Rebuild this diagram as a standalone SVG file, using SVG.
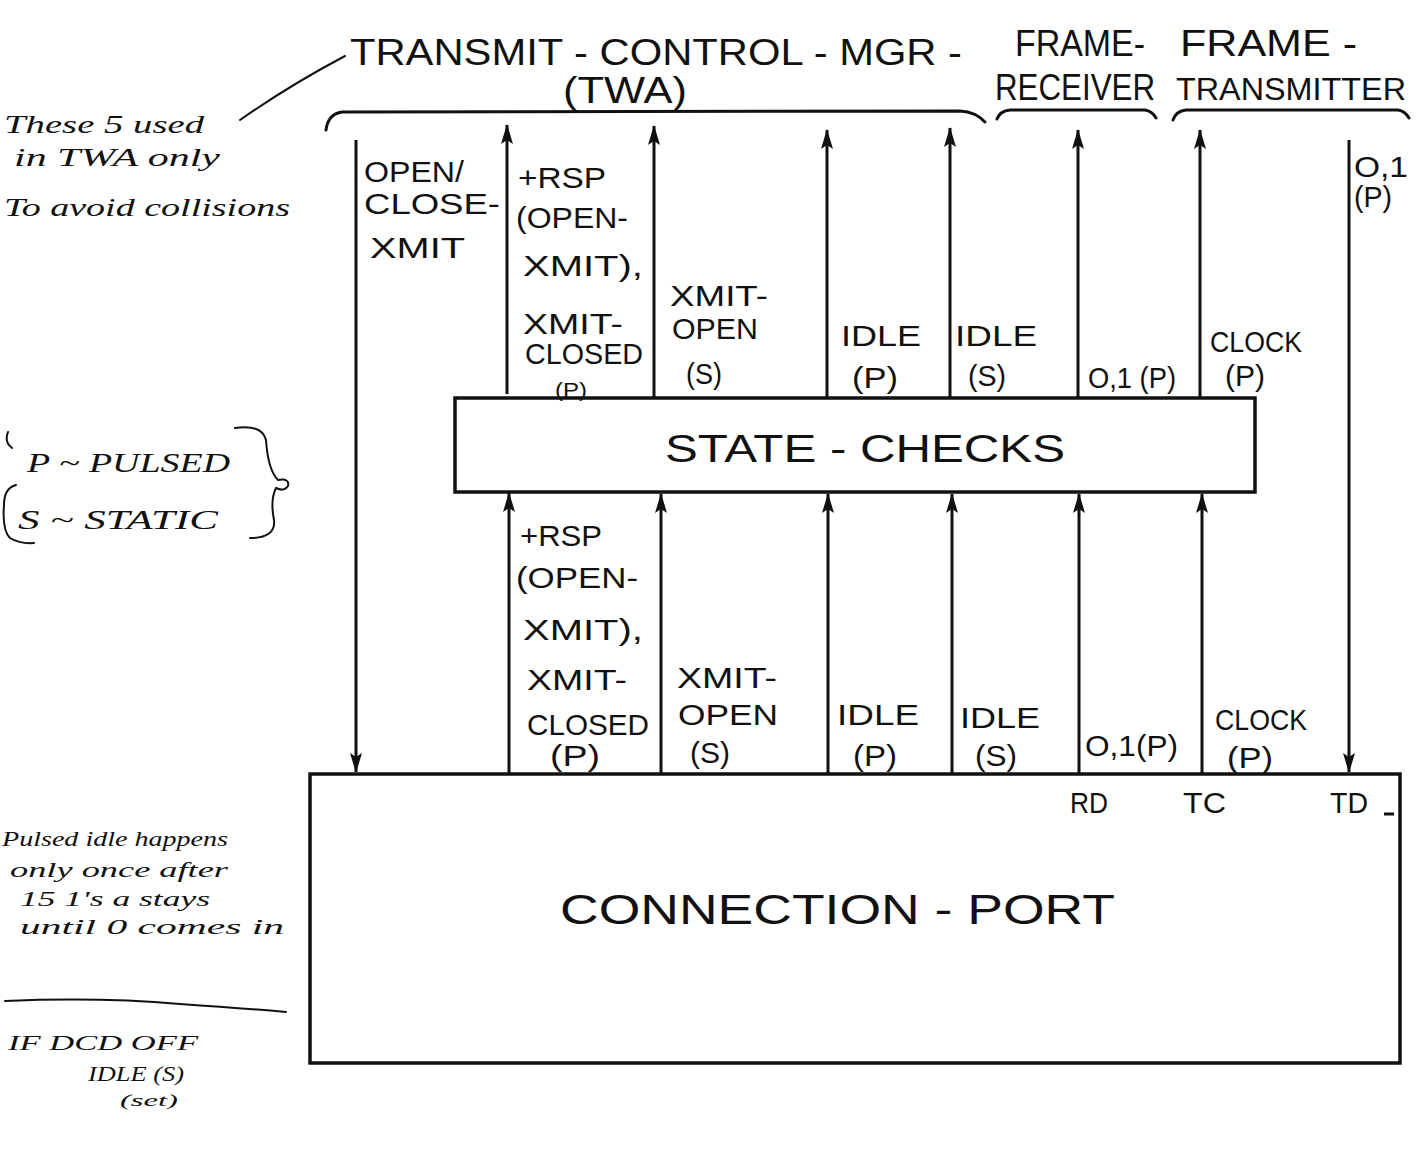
<svg xmlns="http://www.w3.org/2000/svg" width="1418" height="1161" viewBox="0 0 1418 1161">
<defs>
<style>
.t{font-family:"Liberation Sans",Arial,sans-serif;fill:#111;font-size:30px}
.h{font-family:"Liberation Sans",Arial,sans-serif;fill:#111;font-size:36px}
.n{font-family:"Liberation Serif","Times New Roman",serif;font-style:italic;fill:#111;font-size:25px}
.box{fill:none;stroke:#111;stroke-width:3.5}
.ln{fill:none;stroke:#111;stroke-width:3}
.br{fill:none;stroke:#111;stroke-width:3;stroke-linecap:round}
.nb{fill:none;stroke:#111;stroke-width:2;stroke-linecap:round}
</style>
<marker id="ah" viewBox="0 0 20 14" refX="19" refY="7" markerWidth="20" markerHeight="14" markerUnits="userSpaceOnUse" orient="auto">
<path d="M0,1 L20,7 L0,13 L4,7 z" fill="#111"/>
</marker>
</defs>

<g id="headers">
<text class="h" x="350" y="65" textLength="612" lengthAdjust="spacingAndGlyphs">TRANSMIT - CONTROL - MGR -</text>
<text class="h" x="563" y="103" textLength="124" lengthAdjust="spacingAndGlyphs">(TWA)</text>
<path class="br" d="M326 130 Q328 114 342 112 L960 111 Q976 112 985 122"/>
<text class="h" x="1015" y="56" textLength="130" lengthAdjust="spacingAndGlyphs">FRAME-</text>
<text class="h" x="995" y="100" textLength="160" lengthAdjust="spacingAndGlyphs">RECEIVER</text>
<path class="br" d="M997 119 Q1000 111 1010 110 L1145 110 Q1152 111 1156 118"/>
<text class="h" x="1180" y="56" textLength="177" lengthAdjust="spacingAndGlyphs">FRAME -</text>
<text class="h" x="1176" y="100" style="font-size:31px" textLength="230" lengthAdjust="spacingAndGlyphs">TRANSMITTER</text>
<path class="br" d="M1173 120 Q1176 111 1186 110 L1398 110 Q1405 111 1409 118"/>
</g>

<g id="notes">
<path class="nb" d="M240 120 Q290 85 345 56"/>
<text class="n" x="4" y="133" textLength="200" lengthAdjust="spacingAndGlyphs">These 5 used</text>
<text class="n" x="14" y="166" textLength="206" lengthAdjust="spacingAndGlyphs">in TWA only</text>
<text class="n" x="4" y="216" textLength="286" lengthAdjust="spacingAndGlyphs">To avoid collisions</text>
<text class="n" x="27" y="472" style="font-size:28px" textLength="203" lengthAdjust="spacingAndGlyphs">P ~ PULSED</text>
<text class="n" x="18" y="529" style="font-size:28px" textLength="200" lengthAdjust="spacingAndGlyphs">S ~ STATIC</text>
<path class="nb" d="M8 432 Q4 442 12 448 M16 485 Q4 488 4 505 Q2 530 10 538 Q20 544 34 543"/>
<path class="nb" d="M235 428 Q262 424 266 440 Q268 470 278 480 Q290 478 288 486 Q284 492 276 488 Q270 500 274 520 Q276 538 250 538"/>
<text class="n" x="2" y="846" style="font-size:22px" textLength="226" lengthAdjust="spacingAndGlyphs">Pulsed idle happens</text>
<text class="n" x="10" y="877" style="font-size:22px" textLength="218" lengthAdjust="spacingAndGlyphs">only once after</text>
<text class="n" x="20" y="906" style="font-size:22px" textLength="190" lengthAdjust="spacingAndGlyphs">15 1's a stays</text>
<text class="n" x="20" y="934" style="font-size:22px" textLength="264" lengthAdjust="spacingAndGlyphs">until 0 comes in</text>
<path class="nb" d="M5 1001 Q100 997 180 1004 Q240 1008 286 1012"/>
<text class="n" x="8" y="1050" style="font-size:22px" textLength="190" lengthAdjust="spacingAndGlyphs">IF   DCD OFF</text>
<text class="n" x="88" y="1081" style="font-size:21px" textLength="96" lengthAdjust="spacingAndGlyphs">IDLE (S)</text>
<text class="n" x="120" y="1106" style="font-size:17px" textLength="58" lengthAdjust="spacingAndGlyphs">(set)</text>
</g>

<g id="state-checks">
<rect class="box" x="455" y="398" width="800" height="94"/>
<text class="h" x="665" y="462" style="font-size:38px" textLength="400" lengthAdjust="spacingAndGlyphs">STATE - CHECKS</text>
</g>

<g id="connection-port">
<rect class="box" x="310" y="774" width="1090" height="289"/>
<text class="h" x="560" y="924" style="font-size:42px" textLength="555" lengthAdjust="spacingAndGlyphs">CONNECTION - PORT</text>
<text class="t" x="1070" y="813" textLength="38" lengthAdjust="spacingAndGlyphs">RD</text>
<text class="t" x="1183" y="813" textLength="43" lengthAdjust="spacingAndGlyphs">TC</text>
<text class="t" x="1330" y="813" textLength="38" lengthAdjust="spacingAndGlyphs">TD</text>
<path class="ln" d="M1384 814 L1394 814"/>
</g>

<g id="connectors">
<path class="ln" d="M356 140 L356 772" marker-end="url(#ah)"/>
<path class="ln" d="M507 394 L507 125" marker-end="url(#ah)"/>
<path class="ln" d="M654 398 L654 126" marker-end="url(#ah)"/>
<path class="ln" d="M827 398 L827 130" marker-end="url(#ah)"/>
<path class="ln" d="M950 398 L950 128" marker-end="url(#ah)"/>
<path class="ln" d="M1078 398 L1078 130" marker-end="url(#ah)"/>
<path class="ln" d="M1200 398 L1200 130" marker-end="url(#ah)"/>
<path class="ln" d="M1349 140 L1349 772" marker-end="url(#ah)"/>
<path class="ln" d="M509 774 L509 493" marker-end="url(#ah)"/>
<path class="ln" d="M661 774 L661 494" marker-end="url(#ah)"/>
<path class="ln" d="M828 774 L828 494" marker-end="url(#ah)"/>
<path class="ln" d="M952 774 L952 494" marker-end="url(#ah)"/>
<path class="ln" d="M1079 774 L1079 494" marker-end="url(#ah)"/>
<path class="ln" d="M1202 774 L1202 494" marker-end="url(#ah)"/>
</g>

<g id="labels-top">
<text class="t" x="364" y="182" textLength="100" lengthAdjust="spacingAndGlyphs">OPEN/</text>
<text class="t" x="364" y="214" textLength="136" lengthAdjust="spacingAndGlyphs">CLOSE-</text>
<text class="t" x="370" y="258" textLength="95" lengthAdjust="spacingAndGlyphs">XMIT</text>
<text class="t" x="518" y="188" textLength="88" lengthAdjust="spacingAndGlyphs">+RSP</text>
<text class="t" x="516" y="228" textLength="112" lengthAdjust="spacingAndGlyphs">(OPEN-</text>
<text class="t" x="523" y="276" textLength="120" lengthAdjust="spacingAndGlyphs">XMIT),</text>
<text class="t" x="523" y="334" textLength="100" lengthAdjust="spacingAndGlyphs">XMIT-</text>
<text class="t" x="525" y="364" textLength="118" lengthAdjust="spacingAndGlyphs">CLOSED</text>
<text class="t" x="555" y="397" style="font-size:21px" textLength="32" lengthAdjust="spacingAndGlyphs">(P)</text>
<text class="t" x="670" y="306" textLength="98" lengthAdjust="spacingAndGlyphs">XMIT-</text>
<text class="t" x="672" y="339" textLength="86" lengthAdjust="spacingAndGlyphs">OPEN</text>
<text class="t" x="686" y="384" textLength="36" lengthAdjust="spacingAndGlyphs">(S)</text>
<text class="t" x="841" y="346" textLength="80" lengthAdjust="spacingAndGlyphs">IDLE</text>
<text class="t" x="852" y="388" textLength="46" lengthAdjust="spacingAndGlyphs">(P)</text>
<text class="t" x="955" y="346" textLength="82" lengthAdjust="spacingAndGlyphs">IDLE</text>
<text class="t" x="968" y="386" textLength="38" lengthAdjust="spacingAndGlyphs">(S)</text>
<text class="t" x="1088" y="388" textLength="88" lengthAdjust="spacingAndGlyphs">O,1 (P)</text>
<text class="t" x="1210" y="352" textLength="92" lengthAdjust="spacingAndGlyphs">CLOCK</text>
<text class="t" x="1225" y="386" textLength="40" lengthAdjust="spacingAndGlyphs">(P)</text>
<text class="t" x="1354" y="177" textLength="54" lengthAdjust="spacingAndGlyphs">O,1</text>
<text class="t" x="1354" y="207" textLength="38" lengthAdjust="spacingAndGlyphs">(P)</text>
</g>

<g id="labels-bottom">
<text class="t" x="520" y="546" textLength="82" lengthAdjust="spacingAndGlyphs">+RSP</text>
<text class="t" x="516" y="588" textLength="122" lengthAdjust="spacingAndGlyphs">(OPEN-</text>
<text class="t" x="523" y="640" textLength="120" lengthAdjust="spacingAndGlyphs">XMIT),</text>
<text class="t" x="527" y="690" textLength="100" lengthAdjust="spacingAndGlyphs">XMIT-</text>
<text class="t" x="527" y="735" textLength="122" lengthAdjust="spacingAndGlyphs">CLOSED</text>
<text class="t" x="550" y="766" textLength="50" lengthAdjust="spacingAndGlyphs">(P)</text>
<text class="t" x="677" y="688" textLength="100" lengthAdjust="spacingAndGlyphs">XMIT-</text>
<text class="t" x="678" y="725" textLength="100" lengthAdjust="spacingAndGlyphs">OPEN</text>
<text class="t" x="690" y="763" textLength="40" lengthAdjust="spacingAndGlyphs">(S)</text>
<text class="t" x="837" y="725" textLength="82" lengthAdjust="spacingAndGlyphs">IDLE</text>
<text class="t" x="853" y="766" textLength="44" lengthAdjust="spacingAndGlyphs">(P)</text>
<text class="t" x="960" y="728" textLength="80" lengthAdjust="spacingAndGlyphs">IDLE</text>
<text class="t" x="975" y="766" textLength="42" lengthAdjust="spacingAndGlyphs">(S)</text>
<text class="t" x="1085" y="756" textLength="93" lengthAdjust="spacingAndGlyphs">O,1(P)</text>
<text class="t" x="1215" y="730" textLength="92" lengthAdjust="spacingAndGlyphs">CLOCK</text>
<text class="t" x="1227" y="768" textLength="46" lengthAdjust="spacingAndGlyphs">(P)</text>
</g>
</svg>
